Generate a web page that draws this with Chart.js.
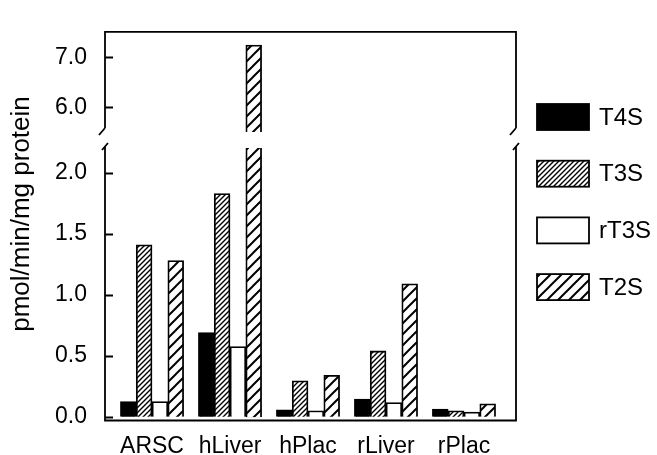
<!DOCTYPE html>
<html>
<head>
<meta charset="utf-8">
<script src="https://cdn.jsdelivr.net/npm/chart.js@4"></script>
<style>
  html, body { margin: 0; padding: 0; background: #fff; }
  #wrap { position: relative; width: 657px; height: 455px; }
  #wrap canvas { position: absolute; left: 0; top: 0; }
</style>
</head>
<body>
<div id="wrap">
  <canvas id="lower" width="657" height="455"></canvas>
  <canvas id="upper" width="657" height="455"></canvas>
</div>
<script>
// data
const categories = ['ARSC', 'hLiver', 'hPlac', 'rLiver', 'rPlac'];
const seriesNames = ['T4S', 'T3S', 'rT3S', 'T2S'];
const t4s  = [0.125, 0.69, 0.057, 0.145, 0.063];
const t3s  = [1.41, 1.83, 0.295, 0.54, 0.05];
const rt3s = [0.125, 0.576, 0.05, 0.117, 0.04];
const t2s  = [1.28, 7.25, 0.34, 1.09, 0.107];
const upperTicks = [6.0, 7.0];
const lowerTicks = [0.0, 0.5, 1.0, 1.5, 2.0];
const yTitle = 'pmol/min/mg protein';

Chart.defaults.font.family = "'Liberation Sans', Arial, sans-serif";
Chart.defaults.color = '#000';

// diagonal hatch tiles
function hatch(step, width) {
  const c = document.createElement('canvas');
  c.width = c.height = step;
  const g = c.getContext('2d');
  g.fillStyle = '#fff';
  g.fillRect(0, 0, step, step);
  g.strokeStyle = '#000';
  g.lineWidth = width;
  g.beginPath();
  g.moveTo(-1, step + 1); g.lineTo(step + 1, -1);
  g.moveTo(-1, 1); g.lineTo(1, -1);
  g.moveTo(step - 1, step + 1); g.lineTo(step + 1, step - 1);
  g.stroke();
  return g.createPattern(c, 'repeat');
}

const fills = ['#000', hatch(5, 1.4), '#fff', hatch(11, 2)];
const values = [t4s, t3s, rt3s, t2s];

function makeDatasets() {
  return seriesNames.map((name, k) => ({
    label: name,
    data: values[k].map((v, i) => ({ x: i, y: v })),
    backgroundColor: fills[k],
    borderColor: '#000',
    borderWidth: 1.8,
    barThickness: 15.8
  }));
}

// frame, break marks and inward tick marks
const framePlugin = {
  id: 'frame',
  afterDraw(chart, args, opts) {
    const { ctx, chartArea: a } = chart;
    const y = chart.scales.y;
    ctx.save();
    ctx.strokeStyle = '#000';
    ctx.lineWidth = 1.8;
    ctx.beginPath();
    if (opts.part === 'upper') {
      ctx.moveTo(a.left, a.bottom - 4); ctx.lineTo(a.left, a.top);
      ctx.lineTo(a.right, a.top); ctx.lineTo(a.right, a.bottom - 4);
      [a.left, a.right].forEach(x => { ctx.moveTo(x, a.bottom - 4); ctx.lineTo(x - 6, a.bottom + 3); });
    } else {
      ctx.moveTo(a.left, a.top - 2); ctx.lineTo(a.left, a.bottom);
      ctx.lineTo(a.right, a.bottom); ctx.lineTo(a.right, a.top - 2);
      [a.left, a.right].forEach(x => { ctx.moveTo(x + 3, a.top - 5); ctx.lineTo(x - 3, a.top + 2); });
    }
    y.ticks.forEach(t => {
      const py = Math.round(y.getPixelForValue(t.value)) + 0.5;
      ctx.moveTo(a.left, py); ctx.lineTo(a.left + 8, py);
    });
    ctx.stroke();

    if (opts.part === 'lower') {
      // y title
      ctx.save();
      ctx.translate(22, 214);
      ctx.rotate(-Math.PI / 2);
      ctx.font = "26px 'Liberation Sans', Arial, sans-serif";
      ctx.fillStyle = '#000';
      ctx.textAlign = 'center';
      ctx.textBaseline = 'middle';
      ctx.fillText(yTitle, 0, 0);
      ctx.restore();

      // legend
      ctx.font = "24px 'Liberation Sans', Arial, sans-serif";
      ctx.textAlign = 'left';
      ctx.textBaseline = 'middle';
      chart.data.datasets.forEach((ds, k) => {
        const top = 104 + k * 56.7;
        ctx.fillStyle = ds.backgroundColor;
        ctx.fillRect(537, top, 52, 26);
        ctx.strokeRect(537, top, 52, 26);
        ctx.fillStyle = '#000';
        ctx.fillText(ds.label, 599, top + 14);
      });
    }
    ctx.restore();
  }
};

function baseOptions(part) {
  return {
    responsive: false,
    animation: false,
    devicePixelRatio: 1,
    plugins: { legend: { display: false }, tooltip: { enabled: false }, frame: { part } }
  };
}

const xScale = {
  type: 'linear',
  offset: false,
  min: -0.603,
  max: 4.667,
  grid: { display: false, drawTicks: false, offset: false },
  border: { display: false },
  afterBuildTicks: s => { s.ticks = categories.map((c, i) => ({ value: i })); },
  ticks: {
    autoSkip: false,
    maxRotation: 0,
    padding: 12,
    font: { size: 23 },
    callback: v => categories[v]
  }
};

// lower panel (0 .. 2.2)
const lowerOpts = baseOptions('lower');
lowerOpts.layout = { padding: { top: 148, right: 141, left: 0, bottom: 0 } };
lowerOpts.scales = {
  x: Object.assign({}, xScale, { afterFit: s => { s.height = 34.5; } }),
  y: {
    min: -0.03,
    max: 2.203,
    afterFit: s => { s.width = 105; },
    afterBuildTicks: s => { s.ticks = lowerTicks.map(v => ({ value: v })); },
    grid: { display: false, drawTicks: false },
    border: { display: false },
    ticks: { padding: 18, font: { size: 23 }, callback: v => v.toFixed(1) }
  }
};

new Chart(document.getElementById('lower'), {
  type: 'bar',
  data: { datasets: makeDatasets() },
  options: lowerOpts,
  plugins: [framePlugin]
});

// upper panel (5.5 .. 7.5)
const upperOpts = baseOptions('upper');
upperOpts.layout = { padding: { top: 15, right: 141, left: 0, bottom: 323 } };
upperOpts.scales = {
  x: Object.assign({}, xScale, { display: false }),
  y: {
    min: 5.5,
    max: 7.517,
    afterFit: s => { s.width = 105; },
    afterBuildTicks: s => { s.ticks = upperTicks.map(v => ({ value: v })); },
    grid: { display: false, drawTicks: false },
    border: { display: false },
    ticks: { padding: 18, font: { size: 23 }, callback: v => v.toFixed(1) }
  }
};

new Chart(document.getElementById('upper'), {
  type: 'bar',
  data: { datasets: makeDatasets() },
  options: upperOpts,
  plugins: [framePlugin]
});
</script>
</body>
</html>
